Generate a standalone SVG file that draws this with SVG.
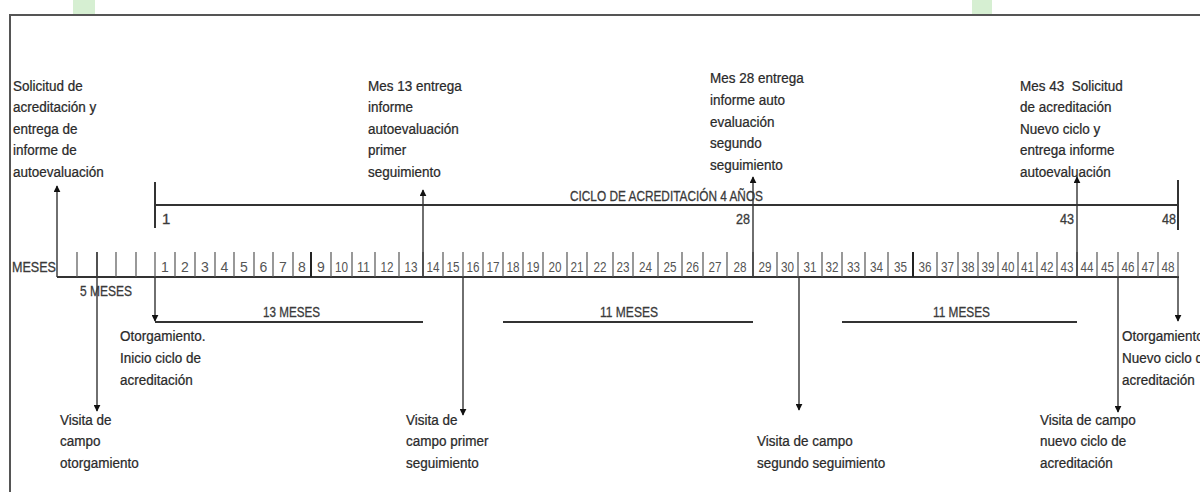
<svg xmlns="http://www.w3.org/2000/svg" width="1200" height="492" viewBox="0 0 1200 492">
<defs>
<style>
.t{font-family:"Liberation Sans",Arial,sans-serif;font-size:14.5px;fill:#2a2a2a;stroke:#2a2a2a;stroke-width:0.25}
.n{font-family:"Liberation Sans",Arial,sans-serif;font-size:14px;fill:#555;text-anchor:middle}
.c{font-family:"Liberation Sans",Arial,sans-serif;font-size:15px;fill:#3a3a3a;stroke:#3a3a3a;stroke-width:0.3}
.ln{stroke:#333;stroke-width:2;fill:none}
.tk{stroke:#555;stroke-width:1.2;fill:none}
.ar{stroke:#333;stroke-width:1.4;fill:none;marker-end:url(#ah)}
</style>
<marker id="ah" viewBox="0 0 10 10" refX="9" refY="5" markerWidth="7" markerHeight="7" markerUnits="userSpaceOnUse" orient="auto"><path d="M0,0 L10,5 L0,10 z" fill="#111"/></marker>
</defs>
<rect width="1200" height="492" fill="#fff"/>
<rect x="73" y="0" width="22" height="15" fill="#d6efd2"/>
<rect x="972" y="0" width="20" height="15" fill="#d6efd2"/>
<path d="M1200,15 H10 V492" stroke="#555" stroke-width="2" fill="none"/>

<g id="axis">
<line class="ln" x1="57" y1="277" x2="1179" y2="277" stroke-width="2.4"/>
<text class="c" x="12" y="272" font-size="16" textLength="44" lengthAdjust="spacingAndGlyphs">MESES</text>
<path class="tk" d="M77,252V277M97,252V277M116,252V277M136,252V277M155,252V277M175,252V277M195,252V277M215,252V277M234,252V277M254,252V277M273,252V277M293,252V277M331,252V277M352,252V277M375,252V277M399,252V277M423,252V277M443,252V277M463,252V277M483,252V277M503,252V277M523,252V277M543,252V277M567,252V277M587,252V277M613,252V277M633,252V277M658,252V277M682,252V277M703,252V277M727,252V277M753,252V277M777,252V277M798,252V277M822,252V277M842,252V277M865,252V277M888,252V277M937,252V277M958,252V277M978,252V277M998,252V277M1018,252V277M1037,252V277M1057,252V277M1077,252V277M1097,252V277M1118,252V277M1138,252V277M1158,252V277M1178,252V277"/>
<path d="M311,252V277M913,252V277" stroke="#222" stroke-width="2"/>
<g>
<text class="n" x="165" y="272">1</text><text class="n" x="185" y="272">2</text><text class="n" x="205" y="272">3</text><text class="n" x="224.5" y="272">4</text><text class="n" x="244" y="272">5</text><text class="n" x="263.5" y="272">6</text><text class="n" x="283" y="272">7</text><text class="n" x="302" y="272">8</text><text class="n" x="321" y="272">9</text><text class="n" x="341.5" y="272" textLength="13" lengthAdjust="spacingAndGlyphs">10</text><text class="n" x="363.5" y="272" textLength="13" lengthAdjust="spacingAndGlyphs">11</text><text class="n" x="387" y="272" textLength="13" lengthAdjust="spacingAndGlyphs">12</text>
<text class="n" x="411" y="272" textLength="13" lengthAdjust="spacingAndGlyphs">13</text><text class="n" x="433" y="272" textLength="13" lengthAdjust="spacingAndGlyphs">14</text><text class="n" x="453" y="272" textLength="13" lengthAdjust="spacingAndGlyphs">15</text><text class="n" x="473" y="272" textLength="13" lengthAdjust="spacingAndGlyphs">16</text><text class="n" x="493" y="272" textLength="13" lengthAdjust="spacingAndGlyphs">17</text><text class="n" x="513" y="272" textLength="13" lengthAdjust="spacingAndGlyphs">18</text><text class="n" x="533" y="272" textLength="13" lengthAdjust="spacingAndGlyphs">19</text><text class="n" x="555" y="272" textLength="13" lengthAdjust="spacingAndGlyphs">20</text><text class="n" x="577" y="272" textLength="13" lengthAdjust="spacingAndGlyphs">21</text><text class="n" x="600" y="272" textLength="13" lengthAdjust="spacingAndGlyphs">22</text><text class="n" x="623" y="272" textLength="13" lengthAdjust="spacingAndGlyphs">23</text><text class="n" x="645.5" y="272" textLength="13" lengthAdjust="spacingAndGlyphs">24</text><text class="n" x="670" y="272" textLength="13" lengthAdjust="spacingAndGlyphs">25</text><text class="n" x="692.5" y="272" textLength="13" lengthAdjust="spacingAndGlyphs">26</text><text class="n" x="715" y="272" textLength="13" lengthAdjust="spacingAndGlyphs">27</text><text class="n" x="740" y="272" textLength="13" lengthAdjust="spacingAndGlyphs">28</text>
<text class="n" x="765" y="272" textLength="13" lengthAdjust="spacingAndGlyphs">29</text><text class="n" x="787.5" y="272" textLength="13" lengthAdjust="spacingAndGlyphs">30</text><text class="n" x="810" y="272" textLength="13" lengthAdjust="spacingAndGlyphs">31</text><text class="n" x="832" y="272" textLength="13" lengthAdjust="spacingAndGlyphs">32</text><text class="n" x="853.5" y="272" textLength="13" lengthAdjust="spacingAndGlyphs">33</text><text class="n" x="876.5" y="272" textLength="13" lengthAdjust="spacingAndGlyphs">34</text><text class="n" x="900.5" y="272" textLength="13" lengthAdjust="spacingAndGlyphs">35</text><text class="n" x="925" y="272" textLength="13" lengthAdjust="spacingAndGlyphs">36</text><text class="n" x="947.5" y="272" textLength="13" lengthAdjust="spacingAndGlyphs">37</text><text class="n" x="968" y="272" textLength="13" lengthAdjust="spacingAndGlyphs">38</text><text class="n" x="988" y="272" textLength="13" lengthAdjust="spacingAndGlyphs">39</text><text class="n" x="1008" y="272" textLength="13" lengthAdjust="spacingAndGlyphs">40</text><text class="n" x="1027.5" y="272" textLength="13" lengthAdjust="spacingAndGlyphs">41</text><text class="n" x="1047" y="272" textLength="13" lengthAdjust="spacingAndGlyphs">42</text><text class="n" x="1067" y="272" textLength="13" lengthAdjust="spacingAndGlyphs">43</text><text class="n" x="1087" y="272" textLength="13" lengthAdjust="spacingAndGlyphs">44</text><text class="n" x="1107.5" y="272" textLength="13" lengthAdjust="spacingAndGlyphs">45</text><text class="n" x="1128" y="272" textLength="13" lengthAdjust="spacingAndGlyphs">46</text><text class="n" x="1148" y="272" textLength="13" lengthAdjust="spacingAndGlyphs">47</text><text class="n" x="1168" y="272" textLength="13" lengthAdjust="spacingAndGlyphs">48</text>
</g>
</g>

<g id="ciclo">
<path class="ln" d="M155,182V228M155,205H1178M1178,180V230"/>
<text class="c" x="570" y="201" textLength="193" lengthAdjust="spacingAndGlyphs">CICLO DE ACREDITACIÓN 4 AÑOS</text>
<text class="c" x="162" y="224">1</text>
<text class="c" x="750" y="224" text-anchor="end" textLength="14" lengthAdjust="spacingAndGlyphs">28</text>
<text class="c" x="1074" y="224" text-anchor="end" textLength="14" lengthAdjust="spacingAndGlyphs">43</text>
<text class="c" x="1176" y="224" text-anchor="end" textLength="14" lengthAdjust="spacingAndGlyphs">48</text>
</g>

<g id="periodos">
<path class="ln" d="M155,322H423M503,322H753M842,322H1077"/>
<text class="c" x="80" y="296" textLength="52" lengthAdjust="spacingAndGlyphs">5 MESES</text>
<text class="c" x="263" y="317" textLength="57" lengthAdjust="spacingAndGlyphs">13 MESES</text>
<text class="c" x="600" y="317" textLength="58" lengthAdjust="spacingAndGlyphs">11 MESES</text>
<text class="c" x="933" y="317" textLength="57" lengthAdjust="spacingAndGlyphs">11 MESES</text>
</g>

<g id="connectors">
<line class="ar" x1="57" y1="277" x2="57" y2="186"/>
<line class="ar" x1="423" y1="277" x2="423" y2="190"/>
<line class="ar" x1="753" y1="277" x2="753" y2="177"/>
<line class="ar" x1="1077" y1="277" x2="1077" y2="177"/>
<line class="ar" x1="97" y1="252" x2="97" y2="411"/>
<line class="ar" x1="155" y1="277" x2="155" y2="321"/>
<line class="ar" x1="463" y1="277" x2="463" y2="415"/>
<line class="ar" x1="799" y1="277" x2="799" y2="410"/>
<line class="ar" x1="1118" y1="277" x2="1118" y2="412"/>
<line class="ar" x1="1178" y1="277" x2="1178" y2="321"/>
</g>

<g id="n-solicitud" transform="matrix(0.93,0,0,1,0.91,0)">
<text class="t" x="13" y="91">Solicitud de</text>
<text class="t" x="13" y="112">acreditación y</text>
<text class="t" x="13" y="134">entrega de</text>
<text class="t" x="13" y="155">informe de</text>
<text class="t" x="13" y="177">autoevaluación</text>
</g>
<g id="n-mes13" transform="matrix(0.93,0,0,1,25.76,0)">
<text class="t" x="368" y="91">Mes 13 entrega</text>
<text class="t" x="368" y="112">informe</text>
<text class="t" x="368" y="134">autoevaluación</text>
<text class="t" x="368" y="155">primer</text>
<text class="t" x="368" y="177">seguimiento</text>
</g>
<g id="n-mes28" transform="matrix(0.93,0,0,1,49.7,0)">
<text class="t" x="710" y="83">Mes 28 entrega</text>
<text class="t" x="710" y="105">informe auto</text>
<text class="t" x="710" y="127">evaluación</text>
<text class="t" x="710" y="148">segundo</text>
<text class="t" x="710" y="170">seguimiento</text>
</g>
<g id="n-mes43" transform="matrix(0.93,0,0,1,71.4,0)">
<text class="t" x="1020" y="91" xml:space="preserve">Mes 43  Solicitud</text>
<text class="t" x="1020" y="112">de acreditación</text>
<text class="t" x="1020" y="134">Nuevo ciclo y</text>
<text class="t" x="1020" y="155">entrega informe</text>
<text class="t" x="1020" y="177">autoevaluación</text>
</g>
<g id="n-otorgamiento" transform="matrix(0.93,0,0,1,8.4,0)">
<text class="t" x="120" y="341">Otorgamiento.</text>
<text class="t" x="120" y="363">Inicio ciclo de</text>
<text class="t" x="120" y="385">acreditación</text>
</g>
<g id="n-visita-otorgamiento" transform="matrix(0.93,0,0,1,4.2,0)">
<text class="t" x="60" y="425">Visita de</text>
<text class="t" x="60" y="446">campo</text>
<text class="t" x="60" y="468">otorgamiento</text>
</g>
<g id="n-visita-primer" transform="matrix(0.93,0,0,1,28.42,0)">
<text class="t" x="406" y="425">Visita de</text>
<text class="t" x="406" y="446">campo primer</text>
<text class="t" x="406" y="468">seguimiento</text>
</g>
<g id="n-visita-segundo" transform="matrix(0.93,0,0,1,52.99,0)">
<text class="t" x="757" y="446">Visita de campo</text>
<text class="t" x="757" y="468">segundo seguimiento</text>
</g>
<g id="n-visita-nuevo" transform="matrix(0.93,0,0,1,72.8,0)">
<text class="t" x="1040" y="425">Visita de campo</text>
<text class="t" x="1040" y="446">nuevo ciclo de</text>
<text class="t" x="1040" y="468">acreditación</text>
</g>
<g id="n-otorgamiento-nuevo" transform="matrix(0.93,0,0,1,78.54,0)">
<text class="t" x="1122" y="341">Otorgamiento.</text>
<text class="t" x="1122" y="363">Nuevo ciclo de</text>
<text class="t" x="1122" y="385">acreditación</text>
</g>
</svg>
